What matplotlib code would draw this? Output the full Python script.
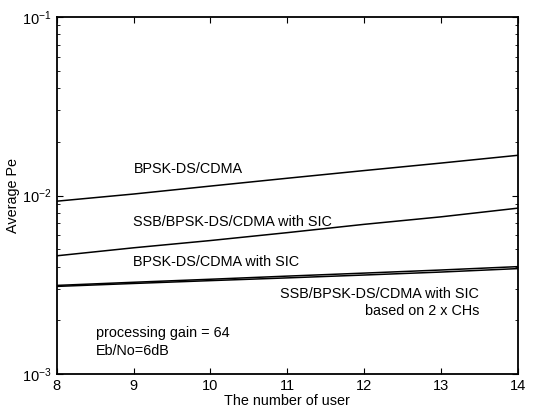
import matplotlib
matplotlib.use('Agg')
import matplotlib.pyplot as plt

plt.rcParams['font.family'] = ['Liberation Sans', 'DejaVu Sans']
plt.rcParams['mathtext.default'] = 'regular'

# number of users
users = [8, 9, 10, 11, 12, 13, 14]
# average Pe
pe_bpsk = [0.0093, 0.0102, 0.0113, 0.0125, 0.0138, 0.0152, 0.0168]
pe_ssb_sic = [0.0046, 0.0051, 0.0056, 0.0062, 0.0069, 0.0076, 0.0085]
pe_bpsk_sic = [0.00314, 0.00327, 0.0034, 0.00354, 0.00368, 0.00383, 0.0040]
pe_ssb_sic_2ch = [0.0031, 0.00322, 0.00334, 0.00346, 0.00359, 0.00373, 0.0039]

fig = plt.figure(figsize=(5.36, 4.13), dpi=100)
ax = fig.add_axes([0.106, 0.094, 0.86, 0.865])

for pe in [pe_bpsk, pe_ssb_sic, pe_bpsk_sic, pe_ssb_sic_2ch]:
    ax.plot(users, pe, color='black', linewidth=1.1)

ax.set_yscale('log')
ax.set_xlim(8, 14)
ax.set_ylim(1e-3, 1e-1)
ax.set_xticks(users)

ax.tick_params(which='both', direction='in', top=True, right=True, labelsize=10.5)
ax.tick_params(which='major', length=4)
ax.tick_params(which='minor', length=2)
for s in ax.spines.values():
    s.set_linewidth(1.3)

fs = 10.4
ax.set_xlabel('The number of user', fontsize=fs, labelpad=1)
ax.set_ylabel('Average Pe', fontsize=fs, labelpad=2)

ax.text(9.0, 0.0140, 'BPSK-DS/CDMA', fontsize=fs, va='center')
ax.text(8.99, 0.00715, 'SSB/BPSK-DS/CDMA with SIC', fontsize=fs, va='center')
ax.text(8.99, 0.00427, 'BPSK-DS/CDMA with SIC', fontsize=fs, va='center')
ax.text(13.5, 0.00280, 'SSB/BPSK-DS/CDMA with SIC', fontsize=fs, va='center', ha='right')
ax.text(13.5, 0.00225, 'based on 2 x CHs', fontsize=fs, va='center', ha='right')
ax.text(8.51, 0.00170, 'processing gain = 64', fontsize=fs, va='center')
ax.text(8.51, 0.00135, 'Eb/No=6dB', fontsize=fs, va='center')

fig.savefig('out.png', dpi=100)
